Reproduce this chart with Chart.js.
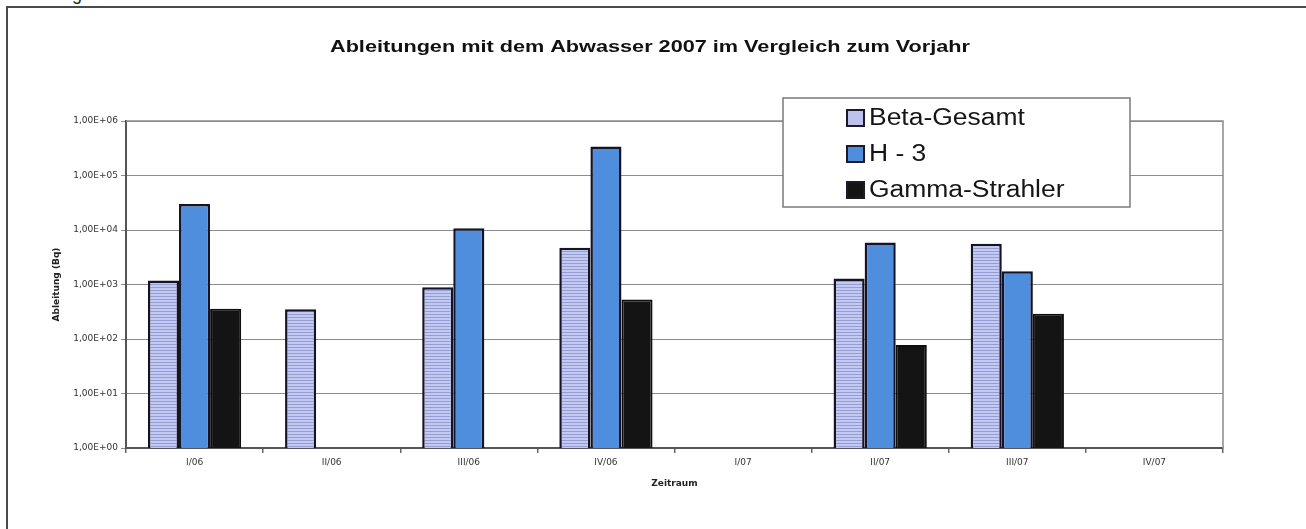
<!DOCTYPE html>
<html><head><meta charset="utf-8">
<script src="https://cdn.jsdelivr.net/npm/chart.js@4/dist/chart.umd.min.js"></script>
<style>
html,body{margin:0;padding:0;background:#fff;overflow:hidden;}
#wrap{position:relative;width:1306px;height:529px;overflow:hidden;}
#frame{position:absolute;left:6px;top:6px;width:1400px;height:600px;border-left:2px solid #4a4a4a;border-top:2px solid #4a4a4a;}
#cap{position:absolute;left:2px;top:-16px;font:18px "Liberation Sans",Arial,sans-serif;color:#222;white-space:nowrap;}
canvas{position:absolute;left:0;top:0;}
</style></head><body>
<div id="wrap"><div id="cap">Abbildung 3.2.7-1</div><div id="frame"></div><canvas id="c" width="1306" height="529"></canvas></div>
<script>
const categories = ['I/06','II/06','III/06','IV/06','I/07','II/07','III/07','IV/07'];
const seriesNames = ['Beta-Gesamt','H - 3','Gamma-Strahler'];
const betaGesamt = [1180, 350, 890, 4700, null, 1290, 5600, null];
const h3 = [30000, null, 10800, 340000, null, 5900, 1750, null];
const gammaStrahler = [360, null, null, 530, null, 78, 290, null];
const yTickValues = [1, 10, 100, 1000, 10000, 100000, 1000000];
const yTickLabels = ['1,00E+00','1,00E+01','1,00E+02','1,00E+03','1,00E+04','1,00E+05','1,00E+06'];
const chartTitle = 'Ableitungen mit dem Abwasser 2007 im Vergleich zum Vorjahr';
const xTitle = 'Zeitraum';
const yTitle = 'Ableitung (Bq)';

const canvas = document.getElementById('c');
const ctx0 = canvas.getContext('2d');

function stripePattern(){
  const c = document.createElement('canvas'); c.width = 4; c.height = 3;
  const x = c.getContext('2d');
  x.fillStyle = '#c3c9f0'; x.fillRect(0,0,4,3);
  x.fillStyle = '#959ed4'; x.fillRect(0,2,4,1);
  return ctx0.createPattern(c, 'repeat');
}

const decor = {
  id: 'decor',
  afterDraw(chart){
    const {ctx, chartArea: a} = chart;
    ctx.save();
    ctx.strokeStyle = '#8a8a8a'; ctx.lineWidth = 1.5;
    ctx.beginPath(); ctx.moveTo(a.left, a.top); ctx.lineTo(a.right, a.top); ctx.lineTo(a.right, a.bottom); ctx.stroke();
    ctx.restore();

    // title
    ctx.save();
    ctx.font = 'bold 16px "Liberation Sans", Arial, sans-serif';
    ctx.fillStyle = '#111'; ctx.textAlign = 'center'; ctx.textBaseline = 'middle';
    const w = ctx.measureText(chartTitle).width;
    ctx.translate(650, 48); ctx.scale(640 / w, 1); ctx.fillText(chartTitle, 0, 0);
    ctx.restore();

    // legend
    ctx.save();
    const L = 783, T = 98, W = 347, H = 109;
    ctx.fillStyle = '#fff'; ctx.fillRect(L, T, W, H);
    ctx.strokeStyle = '#7a7a7a'; ctx.lineWidth = 1.5; ctx.strokeRect(L, T, W, H);
    chart.data.datasets.forEach((ds, i) => {
      const cy = T + 20 + i * 36;
      ctx.fillStyle = ds.legendColor; ctx.fillRect(847, cy - 8, 17, 16);
      ctx.strokeStyle = '#1a1a2a'; ctx.lineWidth = 2; ctx.strokeRect(847, cy - 8, 17, 16);
      ctx.save();
      ctx.font = '23px "Liberation Sans", Arial, sans-serif';
      ctx.fillStyle = '#151515'; ctx.textAlign = 'left'; ctx.textBaseline = 'middle';
      ctx.translate(869, cy + 1); ctx.scale(1.15, 1); ctx.fillText(ds.label, 0, 0);
      ctx.restore();
    });
    ctx.restore();
  }
};

new Chart(canvas, {
  type: 'bar',
  data: {
    labels: categories,
    datasets: [
      {label: seriesNames[0], data: betaGesamt, backgroundColor: stripePattern(), legendColor: '#bcc2ec', borderColor: '#141426', borderWidth: 2.5},
      {label: seriesNames[1], data: h3, backgroundColor: '#4f8ddd', legendColor: '#4f8ddd', borderColor: '#141426', borderWidth: 2.5},
      {label: seriesNames[2], data: gammaStrahler, backgroundColor: '#141414', legendColor: '#141414', borderColor: '#0e0e0e', borderWidth: 2}
    ]
  },
  options: {
    responsive: false, animation: false, devicePixelRatio: 1,
    layout: {padding: {left: 0, right: 83, top: 121, bottom: 0}},
    datasets: {bar: {categoryPercentage: 0.68, barPercentage: 1.0}},
    plugins: {legend: {display: false}, title: {display: false}, tooltip: {enabled: false}},
    scales: {
      x: {
        grid: {offset: true, drawOnChartArea: false, drawTicks: true, tickLength: 5, color: '#666', lineWidth: 1.5},
        border: {color: '#555', width: 2},
        ticks: {font: {family: 'DejaVu Sans', size: 9}, color: '#333', padding: 4, maxRotation: 0, autoSkip: false},
        title: {display: true, text: xTitle, font: {family: 'DejaVu Sans', size: 9, weight: 'bold'}, color: '#222', padding: {top: 0, bottom: 40}},
        afterFit(s){ s.height = 81; }
      },
      y: {
        type: 'logarithmic', min: 1, max: 1000000,
        afterBuildTicks(s){ s.ticks = yTickValues.map(v => ({value: v})); },
        ticks: {
          callback: (v) => { const i = yTickValues.indexOf(v); return i >= 0 ? yTickLabels[i] : ''; },
          font: {family: 'DejaVu Sans', size: 9}, color: '#333', padding: 3, autoSkip: false
        },
        grid: {color: '#8c8c8c', lineWidth: 1, tickLength: 5},
        border: {color: '#555', width: 2},
        title: {display: true, text: yTitle, font: {family: 'DejaVu Sans', size: 9, weight: 'bold'}, color: '#222', padding: {top: 51, bottom: 0}},
        afterFit(s){ s.width = 126; }
      }
    }
  },
  plugins: [decor]
});
</script>
</body></html>
